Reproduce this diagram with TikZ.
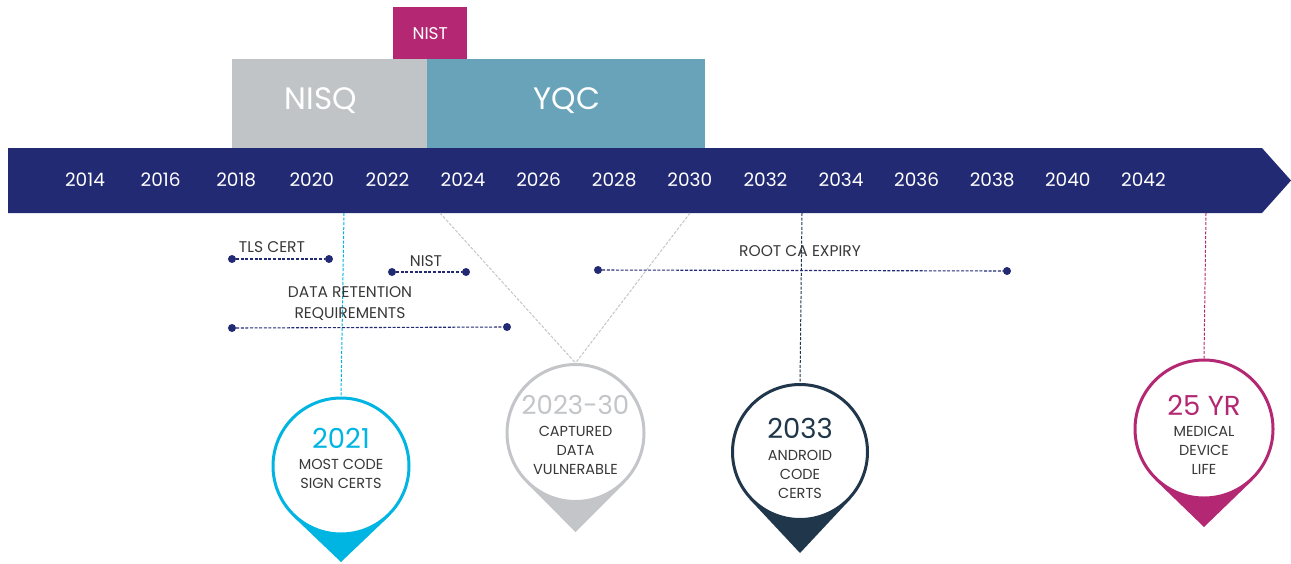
\documentclass[tikz,border=0pt]{standalone}
\usepackage{fontspec}
\setmainfont{Poppins}
\usetikzlibrary{calc,backgrounds}

\definecolor{barnavy}{HTML}{232A74}
\definecolor{nisqgray}{HTML}{C1C4C7}
\definecolor{yqcblue}{HTML}{68A3BA}
\definecolor{nistmag}{HTML}{B42873}
\definecolor{pincyan}{HTML}{00B5E2}
\definecolor{pingray}{HTML}{C3C5C8}
\definecolor{pindark}{HTML}{20364A}
\definecolor{pinmag}{HTML}{B42873}
\definecolor{labeltext}{HTML}{383838}

\tikzset{
  year/.style={text=white, font=\fontsize{18.5}{18.5}\selectfont},
  era/.style={text=white, font=\fontsize{31}{31}\selectfont},
  rangelabel/.style={text=labeltext, font=\fontsize{15.5}{20.5}\selectfont, align=center},
  rangeline/.style={barnavy, line width=1.1pt, dash pattern=on 3pt off 1.6pt},
  rangedot/.style={circle, fill=barnavy, inner sep=0pt, minimum size=8pt},
  pinbody/.style={circle, fill=white, line width=3pt, inner sep=0pt, minimum size=#1},
  bignum/.style={font=\fontsize{27.5}{27.5}\selectfont},
  pintext/.style={text=labeltext, font=\fontsize{14.5}{19}\selectfont, align=center},
}

\begin{document}
\begin{tikzpicture}[x=1pt,y=-1pt]
\useasboundingbox (0,0) rectangle (1291,563);

% era blocks above the time bar
\node[fill=nisqgray, minimum width=195pt, minimum height=89pt, inner sep=0pt, anchor=north west] (nisq) at (232,59) {};
\node[era] (nisqL) at (321,101) {NISQ};
\node[fill=yqcblue, minimum width=278pt, minimum height=89pt, inner sep=0pt, anchor=north west] (yqc) at (427,59) {};
\node[era] (yqcL) at (567,101) {YQC};
\node[fill=nistmag, minimum width=74pt, minimum height=52pt, inner sep=0pt, anchor=north west, text=white, font=\fontsize{17}{17}\selectfont] (nisttop) at (393,7) {NIST};

% time bar with arrow head
\fill[barnavy] (8,148) -- (1262,148) -- (1291,180.5) -- (1262,213) -- (8,213) -- cycle;
\foreach \yr [count=\i from 0] in {2014,2016,2018,2020,2022,2024,2026,2028,2030,2032,2034,2036,2038,2040,2042}
  \node[year] (y\yr) at ({85+75.6*\i},180) {\yr};

% anchor points on the lower edge of the bar
\coordinate (b1) at (344,213);
\coordinate (b2a) at (440,213);
\coordinate (b2b) at (690,213);
\coordinate (b3) at (802,213);
\coordinate (b4) at (1206,213);

% pins
\node[pinbody=136pt, draw=pincyan] (p1) at (341,466) {};
\coordinate (t1) at (341,562);
\node[pinbody=137pt, draw=pingray] (p2) at (575.5,433) {};
\coordinate (t2) at (575.5,532);
\node[pinbody=135pt, draw=pindark] (p3) at (800,452) {};
\coordinate (t3) at (800,553);
\node[pinbody=138pt, draw=pinmag] (p4) at (1204,429) {};
\coordinate (t4) at (1204,527);

\begin{scope}[on background layer]
  \fill[pincyan] (t1) -- (tangent cs:node=p1,point={(t1)},solution=1) -- (p1.center) -- (tangent cs:node=p1,point={(t1)},solution=2) -- cycle;
  \fill[pingray] (t2) -- (tangent cs:node=p2,point={(t2)},solution=1) -- (p2.center) -- (tangent cs:node=p2,point={(t2)},solution=2) -- cycle;
  \fill[pindark] (t3) -- (tangent cs:node=p3,point={(t3)},solution=1) -- (p3.center) -- (tangent cs:node=p3,point={(t3)},solution=2) -- cycle;
  \fill[pinmag] (t4) -- (tangent cs:node=p4,point={(t4)},solution=1) -- (p4.center) -- (tangent cs:node=p4,point={(t4)},solution=2) -- cycle;
\end{scope}

% connectors from the bar to the pins
\draw[pincyan, line width=1pt, dash pattern=on 3pt off 1.6pt] (b1) -- (p1.north);
\draw[pingray, line width=1pt, dash pattern=on 3pt off 1.6pt] (b2a) -- (p2.north);
\draw[pingray, line width=1pt, dash pattern=on 3pt off 1.6pt] (b2b) -- (p2.north);
\draw[pindark, line width=1pt, dash pattern=on 3pt off 1.6pt] (b3) -- (p3.north);
\draw[pinmag, line width=1pt, dash pattern=on 3pt off 1.6pt] (b4) -- (p4.north);

% pin texts
\node[bignum, text=pincyan] (n1) at (341,438) {2021};
\node[pintext] (d1) at (341,474) {MOST CODE\\SIGN CERTS};
\node[bignum, text=pingray, font=\fontsize{26}{26}\selectfont] (n2) at (575.5,405) {2023-30};
\node[pintext] (d2) at (575.5,450) {CAPTURED\\DATA\\VULNERABLE};
\node[bignum, text=pindark] (n3) at (800,428) {2033};
\node[pintext] (d3) at (800,474) {ANDROID\\CODE\\CERTS};
\node[bignum, text=pinmag] (n4) at (1204,405) {25 YR};
\node[pintext] (d4) at (1204,450) {MEDICAL\\DEVICE\\LIFE};

% ranges
\node[rangedot] (tlsA) at (232,259) {};
\node[rangedot] (tlsB) at (329,259) {};
\draw[rangeline] (tlsA) -- (tlsB);
\node[rangelabel] (tlsL) at (272,247) {TLS CERT};

\node[rangedot] (nistA) at (392,272) {};
\node[rangedot] (nistB) at (466,272) {};
\draw[rangeline] (nistA) -- (nistB);
\node[rangelabel] (nistL) at (426,261) {NIST};

\node[rangedot] (drA) at (232,328) {};
\node[rangedot] (drB) at (507,327) {};
\draw[rangeline] (drA) -- (drB);
\node[rangelabel] (drL) at (350,303.5) {DATA RETENTION\\REQUIREMENTS};

\node[rangedot] (caA) at (598,270) {};
\node[rangedot] (caB) at (1007,271) {};
\draw[rangeline] (caA) -- (caB);
\node[rangelabel] (caL) at (800,251) {ROOT CA EXPIRY};

\end{tikzpicture}
\end{document}
